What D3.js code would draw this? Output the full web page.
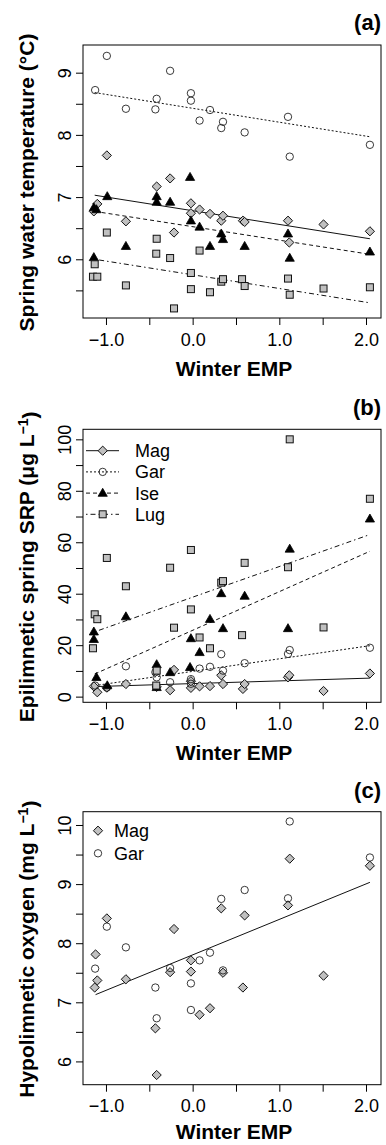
<html>
<head>
<script src="https://cdn.jsdelivr.net/npm/d3@7"></script>
<style>
  body { margin: 0; background: #fff; }
  text { font-family: "Liberation Sans", Arial, sans-serif; }
</style>
</head>
<body>
<svg id="chart" width="386" height="1145"></svg>
<script>
// ---- data ----
// panel (a) spring water temperature
var aMagX = [-1.14, -1.10, -0.99, -0.77, -0.415, -0.26, -0.215, -0.02, -0.02, 0.08, 0.20, 0.33, 0.35, 0.58, 0.60, 1.10, 1.115, 1.51, 2.045];
var aMagY = [6.77, 6.89, 7.67, 6.61, 7.17, 7.30, 6.43, 6.90, 6.74, 6.80, 6.73, 6.62, 6.70, 6.62, 6.60, 6.62, 6.27, 6.56, 6.45];
var aGarX = [-1.125, -0.99, -0.77, -0.43, -0.415, -0.26, -0.02, -0.02, 0.08, 0.20, 0.33, 0.35, 0.60, 1.10, 1.12, 2.045];
var aGarY = [8.72, 9.27, 8.42, 8.41, 8.58, 9.03, 8.67, 8.55, 8.23, 8.40, 8.11, 8.21, 8.04, 8.29, 7.65, 7.84];
var aIseX = [-1.14, -1.14, -1.11, -0.985, -0.77, -0.415, -0.415, -0.26, -0.03, -0.02, 0.08, 0.20, 0.33, 0.35, 0.60, 1.10, 1.12, 2.045];
var aIseY = [6.03, 6.83, 6.80, 7.01, 6.21, 7.01, 6.92, 6.92, 7.32, 6.62, 6.52, 6.21, 6.41, 6.32, 6.21, 6.41, 6.02, 6.12];
var aLugX = [-1.15, -1.13, -1.10, -0.99, -0.77, -0.42, -0.415, -0.26, -0.215, -0.02, -0.02, 0.08, 0.20, 0.33, 0.35, 0.57, 0.60, 1.10, 1.12, 1.51, 2.045];
var aLugY = [5.72, 5.92, 5.72, 6.43, 5.58, 6.09, 6.33, 6.02, 5.21, 5.78, 5.52, 6.14, 5.47, 5.64, 5.68, 5.68, 5.57, 5.69, 5.43, 5.53, 5.55];
// fitted lines: value at start and end x
var aFitX = [-1.13, 2.045];
var aMagFit = [7.03, 6.33], aGarFit = [8.68, 7.97], aIseFit = [6.77, 6.08], aLugFit = [6.00, 5.30];

// panel (b) epilimnetic SRP
var bMagY = [4.0, 1.7, 3.5, 4.9, 3.8, 2.5, 10.4, 3.4, 6.0, 4.0, 4.1, 8.3, 4.9, 3.0, 4.9, 7.5, 8.3, 2.2, 9.0];
var bGarY = [4.3, 3.5, 11.8, 9.5, 7.5, 5.6, 6.8, 5.0, 10.9, 11.6, 16.5, 10.1, 13.0, 16.6, 18.1, 19.0];
var bIseY = [25.2, 22.3, 7.5, 4.3, 31.1, 12.5, 3.6, 9.4, 11.4, 22.6, 17.2, 30.1, 40.1, 26.5, 39.1, 26.5, 57.4, 69.1];
var bLugY = [18.8, 32.0, 30.1, 53.9, 42.9, 4.3, 10.1, 50.1, 26.8, 57.0, 33.9, 23.0, 18.8, 44.3, 44.9, 23.9, 52.0, 50.3, 100, 26.9, 76.9];
var bFitX = [-1.13, 2.045];
var bMagFit = [3.9, 7.2], bGarFit = [4.3, 19.8], bIseFit = [8.8, 56.5], bLugFit = [25.2, 63.0];

// panel (c) hypolimnetic oxygen
var cMagX = [-1.13, -1.12, -1.10, -0.99, -0.77, -0.43, -0.415, -0.26, -0.215, -0.02, -0.02, 0.08, 0.20, 0.33, 0.35, 0.58, 0.60, 1.10, 1.12, 1.51, 2.045];
var cMagY = [7.25, 7.81, 7.37, 8.42, 7.39, 6.56, 5.77, 7.51, 8.24, 7.71, 7.52, 6.79, 6.90, 8.59, 7.50, 7.25, 8.47, 8.64, 9.43, 7.45, 9.31];
var cGarY = [7.57, 8.28, 7.93, 7.25, 6.73, 7.58, 7.32, 6.87, 7.71, 7.84, 8.75, 7.54, 8.90, 8.76, 10.06, 9.45];
var cFitX = [-1.12, 2.045];
var cFit = [7.13, 9.03];

var xTicks = [-1, -0.5, 0, 0.5, 1, 1.5, 2];
var aTicks = [5.5, 6, 6.5, 7, 7.5, 8, 8.5, 9];
var bTicks = [0, 10, 20, 30, 40, 50, 60, 70, 80, 90, 100];
var cTicks = [6, 6.5, 7, 7.5, 8, 8.5, 9, 9.5, 10];

var svg = d3.select("#chart");
var left = 83, right = 381, ph = 273;
var grayFill = "#c0c0c0";

var x = d3.scaleLinear().domain([-1.265, 2.173]).range([left, right]);

function zip(xs, ys) { return xs.map(function (d, i) { return [d, ys[i]]; }); }

// symbol drawing
function drawSymbol(g, kind, cx, cy) {
    if (kind == "diamond") {
        var r = 4.6;
        g.append("path").attr("d", "M" + cx + "," + (cy - r) + "L" + (cx + r) + "," + cy + "L" + cx + "," + (cy + r) + "L" + (cx - r) + "," + cy + "Z")
            .attr("fill", grayFill).attr("stroke", "#111").attr("stroke-width", 1);
    } else if (kind == "circle") {
        g.append("circle").attr("cx", cx).attr("cy", cy).attr("r", 3.7)
            .attr("fill", "none").attr("stroke", "#222").attr("stroke-width", 0.9);
    } else if (kind == "triangle") {
        var w = 4.6, h = 8;
        g.append("path").attr("d", "M" + cx + "," + (cy - h * 0.6) + "L" + (cx + w) + "," + (cy + h * 0.4) + "L" + (cx - w) + "," + (cy + h * 0.4) + "Z")
            .attr("fill", "#000").attr("stroke", "#000").attr("stroke-width", 0.8);
    } else if (kind == "square") {
        var s = 3.5;
        g.append("rect").attr("x", cx - s).attr("y", cy - s).attr("width", 2 * s).attr("height", 2 * s)
            .attr("fill", grayFill).attr("stroke", "#111").attr("stroke-width", 1);
    }
}

var dashes = { solid: null, dotted: "2,2", dashed: "4,3", dotdash: "1.5,3,5,3" };

function drawPanel(p) {
    var top = p.top, bottom = p.top + ph;
    var y = d3.scaleLinear().domain(p.yDomain).range([bottom, top]);
    var g = svg.append("g");

    // fitted lines
    p.fits.forEach(function (f) {
        g.append("line")
            .attr("x1", x(f.x[0])).attr("y1", y(f.y[0]))
            .attr("x2", x(f.x[1])).attr("y2", y(f.y[1]))
            .attr("stroke", "#111").attr("stroke-width", 1)
            .attr("stroke-dasharray", dashes[f.lty]);
    });

    // points
    p.series.forEach(function (s) {
        zip(s.x, s.y).forEach(function (d) {
            drawSymbol(g, s.kind, x(d[0]), y(d[1]));
        });
    });

    // box
    g.append("rect").attr("x", left).attr("y", top).attr("width", right - left).attr("height", ph)
        .attr("fill", "none").attr("stroke", "#000").attr("stroke-width", 1);

    // x axis
    var xa = g.append("g").attr("transform", "translate(0," + bottom + ")")
        .call(d3.axisBottom(x).tickValues(xTicks).tickSize(7).tickPadding(8)
            .tickFormat(function (d) { return Number.isInteger(d) ? d3.format(".1f")(d) : ""; }));
    xa.select(".domain").remove();
    xa.selectAll("text").style("font-size", "18px").attr("fill", "#000");

    // y axis
    var ya = g.append("g").attr("transform", "translate(" + left + ",0)")
        .call(d3.axisLeft(y).tickValues(p.yTicks).tickSize(7)
            .tickFormat(function (d) { return p.labelled(d) ? String(d) : ""; }));
    ya.select(".domain").remove();
    ya.selectAll("text")
        .attr("x", 0).attr("y", -12).attr("dy", 0)
        .attr("text-anchor", "middle")
        .attr("transform", "rotate(-90)")
        .style("font-size", "18px").attr("fill", "#000");

    // axis titles
    svg.append("text").attr("x", 234).attr("y", bottom + p.xtitleOff)
        .attr("text-anchor", "middle").style("font-size", "21px").style("font-weight", "bold")
        .text("Winter EMP");

    var yt = svg.append("text")
        .attr("transform", "translate(34," + ((top + bottom) / 2 + 1) + ") rotate(-90)")
        .attr("text-anchor", "middle").style("font-size", "21px").style("font-weight", "bold");
    yt.append("tspan").text(p.ytitle[0]);
    if (p.ytitle.length > 1) {
        yt.append("tspan").attr("dy", "-0.45em").style("font-size", "14px").text(p.ytitle[1]);
        yt.append("tspan").attr("dy", "0.45em").text(p.ytitle[2]);
    }

    // panel tag
    svg.append("text").attr("x", right).attr("y", p.tagY).attr("text-anchor", "end")
        .style("font-size", "22px").style("font-weight", "bold").text(p.tag);

    return g;
}

drawPanel({
    top: 45, yDomain: [5.056, 9.445], yTicks: aTicks, xtitleOff: 58,
    labelled: function (d) { return Number.isInteger(d); },
    ytitle: ["Spring water temperature (°C)"], tag: "(a)", tagY: 30,
    fits: [
        { x: aFitX, y: aMagFit, lty: "solid" },
        { x: aFitX, y: aGarFit, lty: "dotted" },
        { x: aFitX, y: aIseFit, lty: "dashed" },
        { x: aFitX, y: aLugFit, lty: "dotdash" }
    ],
    series: [
        { x: aMagX, y: aMagY, kind: "diamond" },
        { x: aGarX, y: aGarY, kind: "circle" },
        { x: aIseX, y: aIseY, kind: "triangle" },
        { x: aLugX, y: aLugY, kind: "square" }
    ]
});

var gb = drawPanel({
    top: 429.3, yDomain: [-2.2, 103.9], yTicks: bTicks, xtitleOff: 58,
    labelled: function (d) { return d % 20 == 0; },
    ytitle: ["Epilimnetic spring SRP (μg L", "−1", ")"], tag: "(b)", tagY: 415,
    fits: [
        { x: bFitX, y: bMagFit, lty: "solid" },
        { x: bFitX, y: bGarFit, lty: "dotted" },
        { x: bFitX, y: bIseFit, lty: "dashed" },
        { x: bFitX, y: bLugFit, lty: "dotdash" }
    ],
    series: [
        { x: aMagX, y: bMagY, kind: "diamond" },
        { x: aGarX, y: bGarY, kind: "circle" },
        { x: aIseX, y: bIseY, kind: "triangle" },
        { x: aLugX, y: bLugY, kind: "square" }
    ]
});

var gc = drawPanel({
    top: 811.7, yDomain: [5.606, 10.225], yTicks: cTicks, xtitleOff: 54,
    labelled: function (d) { return Number.isInteger(d); },
    ytitle: ["Hypolimnetic oxygen (mg L", "−1", ")"], tag: "(c)", tagY: 798,
    fits: [{ x: cFitX, y: cFit, lty: "solid" }],
    series: [
        { x: cMagX, y: cMagY, kind: "diamond" },
        { x: aGarX, y: cGarY, kind: "circle" }
    ]
});

// legends
var legB = [
    { name: "Mag", kind: "diamond", lty: "solid" },
    { name: "Gar", kind: "circle", lty: "dotted" },
    { name: "Ise", kind: "triangle", lty: "dashed" },
    { name: "Lug", kind: "square", lty: "dotdash" }
];
legB.forEach(function (d, i) {
    var ly = 450.7 + i * 21.2;
    gb.append("line").attr("x1", 86).attr("x2", 119).attr("y1", ly).attr("y2", ly)
        .attr("stroke", "#111").attr("stroke-width", 1).attr("stroke-dasharray", dashes[d.lty]);
    drawSymbol(gb, d.kind, 102.7, ly);
    gb.append("text").attr("x", 135).attr("y", ly).attr("dy", "0.36em")
        .style("font-size", "18px").text(d.name);
});

var legC = [
    { name: "Mag", kind: "diamond" },
    { name: "Gar", kind: "circle" }
];
legC.forEach(function (d, i) {
    var ly = 830.7 + i * 22.6;
    drawSymbol(gc, d.kind, 98, ly);
    gc.append("text").attr("x", 114).attr("y", ly).attr("dy", "0.36em")
        .style("font-size", "18px").text(d.name);
});
</script>
</body>
</html>
